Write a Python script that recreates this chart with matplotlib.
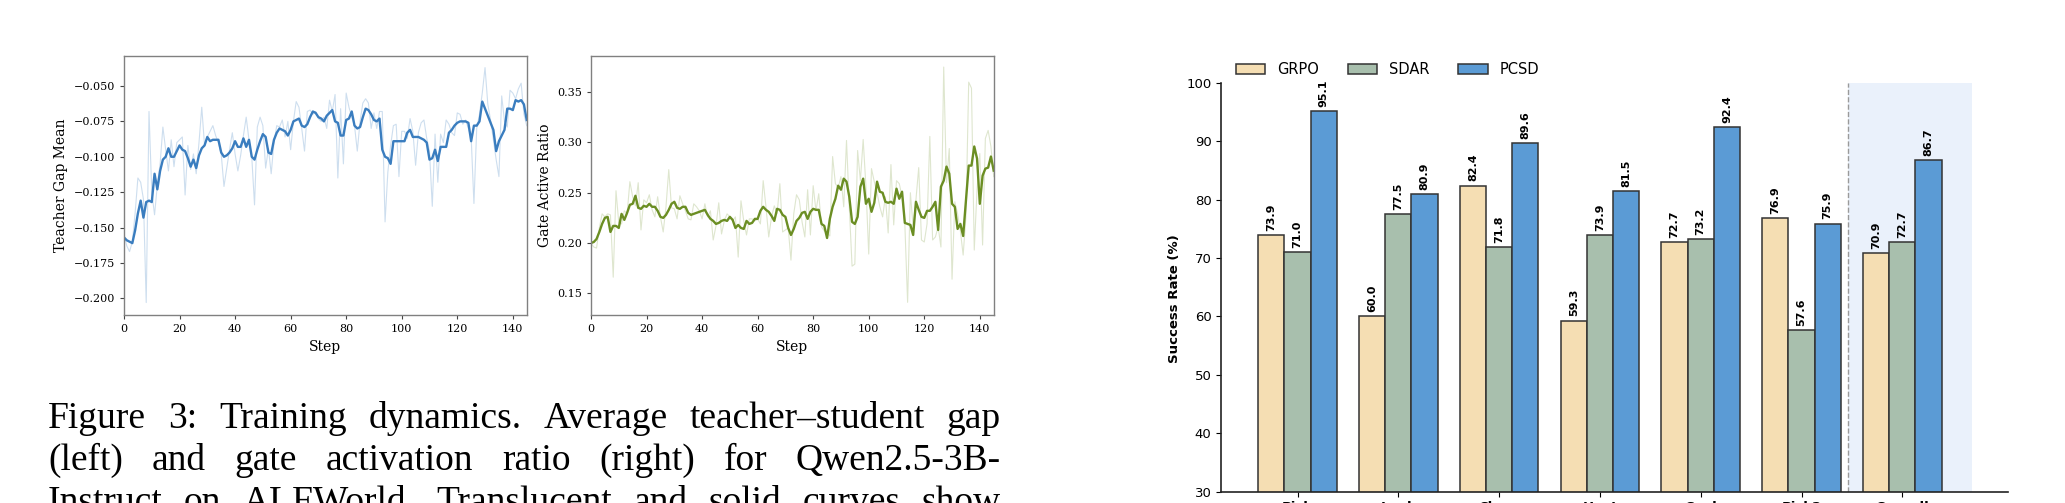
import numpy as np
import matplotlib
matplotlib.use("Agg")
import matplotlib.pyplot as plt
from matplotlib.patches import Patch

# ---------------- data ----------------
steps = list(range(146))

gap_smooth = [
    -0.157, -0.159, -0.160, -0.161, -0.152, -0.140, -0.131, -0.143, -0.132, -0.131,
    -0.132, -0.112, -0.123, -0.110, -0.102, -0.100, -0.094, -0.100, -0.100, -0.096,
    -0.092, -0.095, -0.096, -0.101, -0.107, -0.102, -0.108, -0.099, -0.094, -0.092,
    -0.086, -0.089, -0.088, -0.088, -0.088, -0.097, -0.100, -0.099, -0.097, -0.094,
    -0.089, -0.093, -0.093, -0.087, -0.093, -0.088, -0.100, -0.102, -0.095, -0.089,
    -0.084, -0.086, -0.097, -0.098, -0.088, -0.083, -0.080, -0.081, -0.082, -0.085,
    -0.081, -0.075, -0.074, -0.073, -0.078, -0.079, -0.077, -0.072, -0.068, -0.069,
    -0.072, -0.073, -0.075, -0.071, -0.069, -0.067, -0.075, -0.076, -0.085, -0.085,
    -0.074, -0.073, -0.068, -0.078, -0.080, -0.079, -0.072, -0.066, -0.067, -0.070,
    -0.074, -0.075, -0.073, -0.095, -0.100, -0.101, -0.105, -0.089, -0.089, -0.089,
    -0.089, -0.089, -0.083, -0.081, -0.086, -0.086, -0.086, -0.087, -0.088, -0.090,
    -0.102, -0.101, -0.095, -0.103, -0.093, -0.093, -0.093, -0.083, -0.081, -0.078,
    -0.076, -0.075, -0.075, -0.075, -0.076, -0.089, -0.078, -0.078, -0.075, -0.061,
    -0.066, -0.071, -0.076, -0.081, -0.096, -0.089, -0.085, -0.081, -0.066, -0.066,
    -0.067, -0.060, -0.061, -0.060, -0.063, -0.074,
]

gap_raw = [
    -0.155, -0.163, -0.167, -0.160, -0.140, -0.115, -0.118, -0.130, -0.203, -0.068,
    -0.125, -0.141, -0.120, -0.105, -0.079, -0.095, -0.110, -0.088, -0.107, -0.090,
    -0.088, -0.086, -0.127, -0.092, -0.109, -0.098, -0.112, -0.090, -0.065, -0.092,
    -0.086, -0.082, -0.078, -0.085, -0.090, -0.098, -0.121, -0.108, -0.095, -0.083,
    -0.098, -0.110, -0.099, -0.085, -0.072, -0.088, -0.100, -0.134, -0.079, -0.072,
    -0.078, -0.108, -0.094, -0.112, -0.090, -0.078, -0.079, -0.074, -0.086, -0.075,
    -0.095, -0.075, -0.061, -0.065, -0.080, -0.096, -0.068, -0.067, -0.070, -0.068,
    -0.073, -0.075, -0.072, -0.080, -0.060, -0.068, -0.056, -0.115, -0.066, -0.105,
    -0.055, -0.065, -0.072, -0.078, -0.096, -0.075, -0.062, -0.059, -0.062, -0.080,
    -0.069, -0.080, -0.068, -0.068, -0.146, -0.111, -0.092, -0.078, -0.077, -0.114,
    -0.082, -0.082, -0.087, -0.073, -0.082, -0.106, -0.083, -0.076, -0.074, -0.087,
    -0.096, -0.135, -0.084, -0.118, -0.084, -0.090, -0.074, -0.077, -0.083, -0.085,
    -0.069, -0.070, -0.077, -0.074, -0.080, -0.086, -0.133, -0.080, -0.070, -0.055,
    -0.037, -0.063, -0.074, -0.088, -0.102, -0.114, -0.057, -0.075, -0.079, -0.053,
    -0.055, -0.059, -0.052, -0.048, -0.070, -0.078,
]

gate_smooth = [
    0.200, 0.201, 0.204, 0.211, 0.219, 0.225, 0.226, 0.211, 0.217, 0.217,
    0.215, 0.229, 0.223, 0.230, 0.238, 0.239, 0.247, 0.235, 0.234, 0.237,
    0.236, 0.239, 0.236, 0.236, 0.232, 0.226, 0.225, 0.228, 0.233, 0.239,
    0.241, 0.235, 0.234, 0.236, 0.236, 0.230, 0.228, 0.229, 0.230, 0.231,
    0.232, 0.233, 0.228, 0.224, 0.222, 0.219, 0.220, 0.222, 0.223, 0.222,
    0.226, 0.223, 0.215, 0.218, 0.215, 0.214, 0.222, 0.219, 0.220, 0.224,
    0.224, 0.232, 0.236, 0.233, 0.231, 0.227, 0.222, 0.234, 0.233, 0.228,
    0.226, 0.215, 0.208, 0.214, 0.222, 0.225, 0.230, 0.231, 0.224, 0.231,
    0.234, 0.233, 0.233, 0.219, 0.217, 0.205, 0.224, 0.236, 0.244, 0.257,
    0.253, 0.264, 0.261, 0.246, 0.221, 0.219, 0.226, 0.256, 0.264, 0.239,
    0.244, 0.231, 0.240, 0.261, 0.251, 0.250, 0.241, 0.240, 0.241, 0.239,
    0.254, 0.244, 0.251, 0.220, 0.219, 0.218, 0.208, 0.241, 0.233, 0.226,
    0.225, 0.232, 0.232, 0.236, 0.241, 0.213, 0.256, 0.262, 0.276, 0.269,
    0.239, 0.236, 0.214, 0.219, 0.207, 0.242, 0.277, 0.277, 0.296, 0.284,
    0.239, 0.267, 0.274, 0.275, 0.286, 0.272,
]

gate_raw = [
    0.200, 0.196, 0.195, 0.215, 0.229, 0.226, 0.229, 0.228, 0.166, 0.252,
    0.220, 0.219, 0.232, 0.229, 0.261, 0.246, 0.237, 0.260, 0.213, 0.243,
    0.240, 0.248, 0.233, 0.226, 0.246, 0.226, 0.211, 0.236, 0.273, 0.235,
    0.234, 0.224, 0.247, 0.239, 0.232, 0.224, 0.223, 0.239, 0.236, 0.232,
    0.224, 0.239, 0.226, 0.232, 0.203, 0.217, 0.240, 0.209, 0.222, 0.229,
    0.226, 0.222, 0.226, 0.186, 0.242, 0.222, 0.208, 0.224, 0.224, 0.222,
    0.224, 0.219, 0.262, 0.236, 0.206, 0.226, 0.237, 0.229, 0.259, 0.211,
    0.213, 0.215, 0.183, 0.229, 0.248, 0.243, 0.221, 0.206, 0.253, 0.208,
    0.257, 0.232, 0.249, 0.216, 0.212, 0.210, 0.207, 0.286, 0.259, 0.255,
    0.266, 0.236, 0.302, 0.236, 0.177, 0.179, 0.292, 0.262, 0.303, 0.256,
    0.189, 0.274, 0.261, 0.250, 0.236, 0.226, 0.246, 0.210, 0.278, 0.218,
    0.262, 0.259, 0.246, 0.219, 0.141, 0.250, 0.215, 0.243, 0.275, 0.203,
    0.201, 0.219, 0.306, 0.203, 0.206, 0.216, 0.196, 0.375, 0.260, 0.294,
    0.164, 0.241, 0.229, 0.212, 0.188, 0.226, 0.360, 0.354, 0.193, 0.253,
    0.289, 0.198, 0.304, 0.312, 0.296, 0.266,
]

categories = ["Pick", "Look", "Clean", "Heat", "Cool", "Pick2", "Overall"]
grpo = [73.9, 60.0, 82.4, 59.3, 72.7, 76.9, 70.9]
sdar = [71.0, 77.5, 71.8, 73.9, 73.2, 57.6, 72.7]
pcsd = [95.1, 80.9, 89.6, 81.5, 92.4, 75.9, 86.7]
methods = ["GRPO", "SDAR", "PCSD"]

caption_lines = [
    "Figure 3: Training dynamics. Average teacher\u2013student gap",
    "(left) and gate activation ratio (right) for Qwen2.5-3B-",
    "Instruct on ALFWorld. Translucent and solid curves show",
]

# ---------------- figure ----------------
W, H = 2065, 503
fig = plt.figure(figsize=(W / 100, H / 100), dpi=100)


def px_axes(x0, y0, x1, y1):
    return fig.add_axes([x0 / W, 1 - y1 / H, (x1 - x0) / W, (y1 - y0) / H])


BLUE = "#3a7dbf"
GREEN = "#6b8e23"
SPINE = "#808080"
serif = ["DejaVu Serif"]

# Left: teacher gap
ax1 = px_axes(124, 56, 526.7, 315)
ax1.plot(steps, gap_raw, color=BLUE, alpha=0.25, lw=0.8)
ax1.plot(steps, gap_smooth, color=BLUE, lw=1.7)
ax1.set_xlim(0, 145)
ax1.set_ylim(-0.2118, -0.0288)
ax1.set_xticks(range(0, 141, 20))
ax1.set_yticks(np.arange(-0.200, -0.049, 0.025))
ax1.set_ylabel("Teacher Gap Mean", family=serif, fontsize=10)
ax1.set_xlabel("Step", family=serif, fontsize=10)

# Right: gate ratio
ax2 = px_axes(591, 56, 993.7, 315)
ax2.plot(steps, gate_raw, color=GREEN, alpha=0.22, lw=0.8)
ax2.plot(steps, gate_smooth, color=GREEN, lw=1.7)
ax2.set_xlim(0, 145)
ax2.set_ylim(0.1284, 0.386)
ax2.set_xticks(range(0, 141, 20))
ax2.set_yticks([0.15, 0.20, 0.25, 0.30, 0.35])
ax2.set_yticklabels(["0.15", "0.20", "0.25", "0.30", "0.35"])
ax2.set_ylabel("Gate Active Ratio", family=serif, fontsize=10)
ax2.set_xlabel("Step", family=serif, fontsize=10)

for ax in (ax1, ax2):
    for s in ax.spines.values():
        s.set_color(SPINE)
        s.set_linewidth(1.0)
    ax.tick_params(labelsize=8, length=3, width=0.8, color="#444444")
    for lab in ax.get_xticklabels() + ax.get_yticklabels():
        lab.set_family(serif)

# Bar chart
axb = px_axes(1221.2, 82.7, 2007.6, 491.7)
x = np.arange(len(categories))
bw = 0.26
colors = ["#F5DEB3", "#A8BFAD", "#5B9BD5"]
axb.axvspan(5.46, 6.695, color="#EAF1FB", zorder=0, lw=0)
axb.axvline(5.46, color="#9a9a9a", ls="--", lw=1.0, zorder=1)
for i, (vals, c) in enumerate(zip([grpo, sdar, pcsd], colors)):
    bars = axb.bar(x + (i - 1) * bw, vals, width=bw, color=c,
                   edgecolor="#333333", linewidth=1.1, zorder=2)
    for b, v in zip(bars, vals):
        axb.annotate(f"{v:.1f}", (b.get_x() + b.get_width() / 2, v),
                     xytext=(0, 3), textcoords="offset points",
                     ha="center", va="bottom", rotation=90,
                     fontsize=8, fontweight="bold", zorder=3)
axb.set_xlim(-0.758, 7.045)
axb.set_ylim(30, 100)
axb.set_yticks(range(30, 101, 10))
axb.set_xticks(x)
axb.set_xticklabels(categories, fontweight="bold", fontsize=9.5)
axb.tick_params(axis="y", labelsize=9.5)
axb.set_ylabel("Success Rate (%)", fontweight="bold", fontsize=9.5)
axb.yaxis.label.set_y(0.471)
for side in ("top", "right"):
    axb.spines[side].set_visible(False)
for side in ("left", "bottom"):
    axb.spines[side].set_color("#222222")
    axb.spines[side].set_linewidth(1.2)

handles = [Patch(facecolor=c, edgecolor="#333333", linewidth=1.1) for c in colors]
fig.legend(handles, methods, loc="center left", ncol=3, frameon=False,
           bbox_to_anchor=(1236 / W, 1 - 69.3 / H), borderaxespad=0,
           borderpad=0, fontsize=10.5, columnspacing=2.0, handlelength=2.0)

# Caption (justified)
renderer = fig.canvas.get_renderer()
cap_x0, cap_x1 = 48, 1001
baselines = [428, 470, 512]
cap_fs = 27
for line, yb in zip(caption_lines, baselines):
    words = line.split(" ")
    texts = [fig.text(0, 1 - yb / H, w, fontsize=cap_fs, family="Liberation Serif",
                      va="baseline", ha="left") for w in words]
    widths = [t.get_window_extent(renderer).width for t in texts]
    gap = (cap_x1 - cap_x0 - sum(widths)) / (len(words) - 1)
    xpos = cap_x0
    for t, wd in zip(texts, widths):
        t.set_x(xpos / W)
        xpos += wd + gap

fig.savefig("out.png", dpi=100)
